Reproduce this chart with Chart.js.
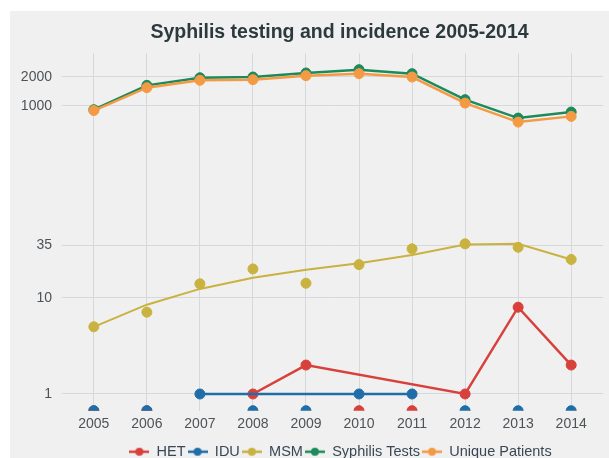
<!DOCTYPE html>
<html>
<head>
<meta charset="utf-8">
<script src="https://cdn.jsdelivr.net/npm/chart.js@4.4.1/dist/chart.umd.min.js"></script>
<style>
  html, body { margin: 0; padding: 0; background: #fff; }
  #wrap { position: absolute; left: 10px; top: 11px; width: 599px; height: 447px; overflow: hidden; background: #f0f0f0; }
  #chart { display: block; }
</style>
</head>
<body>
<div id="wrap"><canvas id="chart" width="599" height="458"></canvas></div>
<script>
// --- Data ---
const years = [2005, 2006, 2007, 2008, 2009, 2010, 2011, 2012, 2013, 2014];
const hetCases = [0, 0, null, 1, 2, 0, 0, 1, 8, 2];
const iduCases = [0, 0, 1, 0, 0, 1, 1, 0, 0, 0];
const msmCases = [5.0, 7.1, 14, 20, 14.2, 22.2, 32.4, 36.5, 33.6, 25.1];
const msmTrend = [5.0, 8.5, 12.4, 16.2, 19.6, 22.9, 28.0, 35.9, 36.5, 25.1];
const syphilisTests = [908, 1627, 1954, 1987, 2188, 2371, 2154, 1155, 743, 858];
const uniquePatients = [890, 1540, 1836, 1866, 2053, 2154, 1987, 1064, 675, 774];
const yTicks = [1, 10, 35, 1000, 2000];

const Y_MIN = 0.67;
const Y_MAX = 3500;
const FONT = 'Liberation Sans, Arial, sans-serif';

const colors = {
    het: '#d8403c',
    idu: '#1f6ea8',
    msm: '#c9b240',
    tests: '#1d8a5b',
    patients: '#f59a44'
};

// points made from a value list; zeros can't sit on a log axis so they are
// either dropped (line) or parked at the axis floor (clipped dots)
const toPoints = (arr) => years.map((x, i) => ({ x, y: arr[i] > 0 ? arr[i] : null }));
const toZeroPoints = (arr) => years.map((x, i) => ({ x, y: arr[i] === 0 ? Y_MIN : null }));

function lineSet(label, arr, color, width) {
    return {
        label, data: toPoints(arr),
        borderColor: color, backgroundColor: color,
        borderWidth: width, pointRadius: 5, pointHoverRadius: 5,
        pointBorderWidth: 1, spanGaps: true, tension: 0
    };
}

function zeroSet(label, arr, color) {
    return {
        label, data: toZeroPoints(arr),
        borderColor: color, backgroundColor: color,
        showLine: false, pointRadius: 5, pointBorderWidth: 1, clip: 0
    };
}

const datasets = [
    lineSet('HET', hetCases, colors.het, 2.5),
    zeroSet('HET zero', hetCases, colors.het),
    lineSet('IDU', iduCases, colors.idu, 2.5),
    zeroSet('IDU zero', iduCases, colors.idu),
    { ...lineSet('MSM trend', msmTrend, colors.msm, 2), pointRadius: 0 },
    { ...lineSet('MSM', msmCases, colors.msm, 0), showLine: false },
    lineSet('Syphilis Tests', syphilisTests, colors.tests, 2.5),
    lineSet('Unique Patients', uniquePatients, colors.patients, 2.5)
];
// later series are drawn on top
datasets.forEach((ds, i) => { ds.order = datasets.length - i; });

// legend marker: short line with a dot in the middle
function legendMarker(color) {
    const c = document.createElement('canvas');
    c.width = 20; c.height = 10;
    const ctx = c.getContext('2d');
    ctx.strokeStyle = color; ctx.fillStyle = color; ctx.lineWidth = 2.5;
    ctx.beginPath(); ctx.moveTo(0, 5); ctx.lineTo(20, 5); ctx.stroke();
    ctx.beginPath(); ctx.arc(10, 5, 4, 0, Math.PI * 2); ctx.fill();
    return c;
}

const legendItems = [
    ['HET', colors.het], ['IDU', colors.idu], ['MSM', colors.msm],
    ['Syphilis Tests', colors.tests], ['Unique Patients', colors.patients]
];

// title and legend sit a little right of the plot centre in the original
const nudgeBoxes = {
    id: 'nudgeBoxes',
    afterLayout(chart) {
        chart.titleBlock.left += 7; chart.titleBlock.right += 7;
        chart.legend.left += 8; chart.legend.right += 8;
    }
};

new Chart(document.getElementById('chart'), {
    type: 'line',
    data: { datasets },
    plugins: [nudgeBoxes],
    options: {
        responsive: false,
        animation: false,
        devicePixelRatio: 1,
        layout: { padding: { left: 0, right: 0, top: 0, bottom: 0 } },
        plugins: {
            tooltip: { enabled: false },
            title: {
                display: true,
                text: 'Syphilis testing and incidence 2005-2014',
                fullSize: false,
                color: '#2d3a3d',
                font: { family: FONT, size: 19.5, weight: 'bold' },
                padding: { top: 10, bottom: 9 }
            },
            legend: {
                position: 'bottom',
                fullSize: false,
                labels: {
                    usePointStyle: true,
                    pointStyleWidth: 20,
                    padding: 2,
                    color: '#3a4855',
                    font: { family: FONT, size: 14.5 },
                    generateLabels: () => legendItems.map(([text, color]) => ({
                        text, fillStyle: color, strokeStyle: color, lineWidth: 0,
                        pointStyle: legendMarker(color), fontColor: '#3a4855', hidden: false
                    }))
                }
            }
        },
        scales: {
            x: {
                type: 'linear',
                min: 2004.4,
                max: 2014.6,
                afterBuildTicks: (scale) => { scale.ticks = years.map(v => ({ value: v })); },
                afterFit: (scale) => { scale.height += 5; },
                ticks: {
                    callback: (v) => String(v),
                    color: '#4d5357',
                    font: { family: FONT, size: 14 },
                    padding: 5,
                    maxRotation: 0
                },
                grid: { color: '#d6d8db', drawTicks: false },
                border: { display: false }
            },
            y: {
                type: 'logarithmic',
                min: Y_MIN,
                max: Y_MAX,
                afterBuildTicks: (scale) => { scale.ticks = yTicks.map(v => ({ value: v })); },
                afterFit: (scale) => { scale.width = 52; },
                ticks: {
                    callback: (v) => String(v),
                    color: '#4d5357',
                    font: { family: FONT, size: 14 },
                    padding: 10
                },
                grid: { color: '#d6d8db', drawTicks: false },
                border: { display: false }
            }
        }
    }
});
</script>
</body>
</html>
